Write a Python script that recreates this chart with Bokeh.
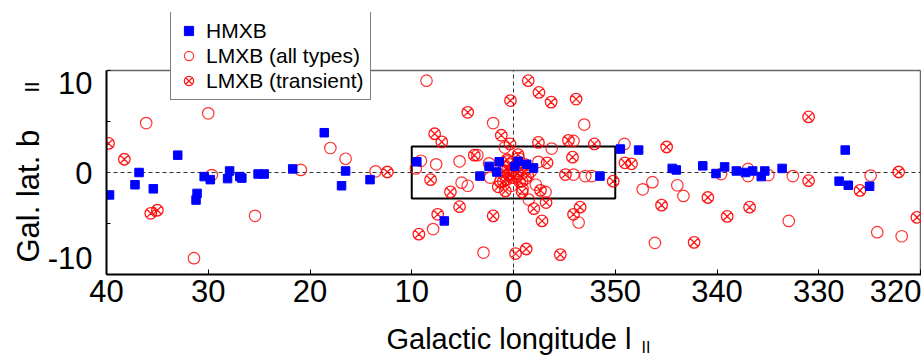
import math
from bokeh.plotting import figure
from bokeh.models import Range1d, FixedTicker, Label, Legend, LegendItem, ColumnDataSource
from bokeh.embed import file_html
from bokeh.resources import INLINE

# ---------------- data (galactic longitude l [deg], latitude b [deg]) ----------------
hmxb_l = [39.7, 37.2, 36.8, 35.4, 33.0, 31.2, 31.1, 30.4, 29.8, 28.1,
          27.9, 26.9, 26.7, 25.1, 24.5, 21.7, 18.6, 16.5, 16.9, 14.1,
          9.5, 6.8, 3.3, 2.4, 1.65, 1.4, 359.55, 359.87, 358.7, 358.03,
          351.5, 349.5, 347.7, 344.4, 344.0, 341.4, 340.1, 339.25, 338.1, 337.2,
          336.5, 335.65, 335.3, 333.6, 328.0, 327.4, 327.1, 325.0]
hmxb_b = [-2.2, -1.2, 0.0, -1.6, 1.7, -2.7, -2.05, -0.4, -0.7, -0.6,
          0.15, -0.4, -0.55, -0.15, -0.15, 0.35, 3.9, 0.15, -1.3, -0.7,
          1.05, -4.75, -0.35, 0.6, 0.05, 1.05, 1.1, 0.6, 0.8, 0.45,
          -0.35, 2.3, 2.2, 0.4, 0.25, 0.65, -0.1, 0.55, 0.15, 0.0,
          0.15, -0.4, 0.15, 0.4, -0.85, 2.2, -1.25, -1.35]

lmxb_l = [36.1, 30.0, 29.65, 31.4, 25.4, 20.9, 18.0, 16.5, 13.55, 8.55,
          9.1, 9.6, 7.6, 5.3, 5.1, 4.5, 7.9, 2.95, 2.0, 3.55,
          0.85, 2.4, 357.55, 356.25, 354.1, 353.05, 356.85, 358.5, 359.15, 354.1,
          352.95, 353.6, 352.3, 349.1, 347.3, 346.35, 343.9, 343.3, 346.1, 339.6,
          336.95, 336.95, 334.95, 332.55, 332.95, 324.9, 324.25, 321.85,
          0.1, 359.7, 0.5, 359.2, 0.9, 358.8, 1.3, 0.2, 359.5, 1.6,
          358.3, 0.6, 359.1, 2.3, 357.8]
lmxb_b = [4.85, 5.8, -0.25, -8.4, -4.25, 0.25, 2.4, 1.35, 0.12, 9.0,
          1.15, 0.4, 0.8, 1.1, -1.0, -1.3, -5.55, -7.85, 4.85, 1.7,
          2.45, 0.9, 1.05, 2.35, 3.1, 4.7, -1.9, -2.65, -0.85, -0.2,
          -0.35, -4.9, -0.35, 2.8, -1.65, -0.95, -1.25, -2.3, -6.9, -0.15,
          0.35, -0.35, -0.25, -0.35, -4.75, -0.3, -5.85, -6.25,
          0.2, -0.4, -0.2, 0.3, 0.5, -0.6, -0.9, -1.3, 1.4, 0.3,
          0.1, 1.1, -1.6, -0.5, -1.2]

trans_l = [39.8, 38.25, 35.65, 35.0, 12.4, 4.5, 7.75, 7.05, 3.85, 8.15,
           6.2, 5.3, 7.45, 9.3, 358.55, 357.5, 356.3, 353.85, 0.3, 1.2,
           357.55, 354.6, 354.2, 0.35, 0.65, 359.55, 356.7, 359.15, 357.35, 356.8,
           358.0, 357.2, 2.0, 353.45, 354.1, 359.8, 358.75, 355.4, 354.9, 1.0,
           352.05, 344.95, 349.05, 348.4, 350.2, 345.45, 342.25, 340.9, 339.0, 336.8,
           331.0, 331.0, 325.95, 322.15, 320.35,
           0.3, 359.8, 0.7, 359.4, 1.0, 358.9, 0.0, 359.6, 0.4, 1.5, 358.6, 0.8]
trans_b = [2.85, 1.3, -4.0, -3.7, 0.05, 5.9, 3.8, 3.0, 1.7, -0.7,
           -1.9, -3.35, -4.1, -6.05, 9.0, 7.85, 6.9, 7.2, 7.05, 3.65,
           2.95, 3.15, 1.5, 2.8, 1.25, 1.75, 0.95, -1.9, -1.75, -2.95,
           -3.55, -4.75, -4.25, -3.4, -4.1, -7.95, -7.5, -8.05, -0.2, -0.85,
           2.8, 2.5, 0.95, 0.85, -0.85, -3.2, -6.85, -2.45, -4.3, -3.4,
           5.45, -0.8, -1.75, 0.05, -4.4,
           -0.1, 0.5, -0.7, -0.9, 0.1, 0.8, -0.5, -0.1, 0.8, -1.4, -0.3, -1.8]

box_l = [10.0, 350.0]
box_b = [-2.55, 2.55]

l_lim = [40.0, 320.0]
b_lim = [-10.0, 10.0]
x_ticks = [40, 30, 20, 10, 0, 350, 340, 330, 320]
y_tick_labels = ["10", "0", "-10"]
y_label_pos = [8.75, 0.0, -8.4]     # edge labels sit inside the box, as in the original
y_minor = [-10, -5, 5, 10]


def wrap(l):
    return l - 360.0 if l > 180 else l


def xs(ls):
    return [wrap(v) for v in ls]


FONT = "Liberation Sans"
FRAME_TOP = 12
x_lo, x_hi = wrap(l_lim[0]), wrap(l_lim[1])
ppx = (920 - 103) / (x_lo - x_hi)           # px per degree horizontally
ppy = (274 - 70) / (b_lim[1] - b_lim[0])     # px per degree vertically
top_b = b_lim[1] + (70 - FRAME_TOP) / ppy    # frame extends above the box for the legend

p = figure(width=921, height=356, output_backend="svg", toolbar_location=None,
           title=None, x_range=Range1d(x_lo, x_hi - 1 / ppx), y_range=Range1d(b_lim[0], top_b),
           min_border_left=103, min_border_right=0, min_border_top=FRAME_TOP, min_border_bottom=82)
p.xgrid.visible = False
p.ygrid.visible = False
p.outline_line_color = None
p.background_fill_color = "white"
p.border_fill_color = "white"

# x axis
p.xaxis.ticker = FixedTicker(ticks=[wrap(t) for t in x_ticks])
p.xaxis.major_label_overrides = {wrap(t): str(t) for t in x_ticks}
p.xaxis.major_label_text_font = FONT
p.xaxis.major_label_text_font_size = "31px"
p.xaxis.major_label_text_color = "black"
p.xaxis.major_label_standoff = 5
p.xaxis.axis_line_width = 2
p.xaxis.axis_line_color = "black"
p.xaxis.major_tick_in = 5
p.xaxis.major_tick_out = 0
p.xaxis.major_tick_line_color = "black"
p.xaxis.minor_tick_line_color = None

# y axis
p.yaxis.bounds = (b_lim[0], b_lim[1])
p.yaxis.ticker = FixedTicker(ticks=y_label_pos, minor_ticks=y_minor)
p.yaxis.major_label_overrides = {pos: txt for pos, txt in zip(y_label_pos, y_tick_labels)}
p.yaxis.major_label_text_font = FONT
p.yaxis.major_label_text_font_size = "31px"
p.yaxis.major_label_text_color = "black"
p.yaxis.major_label_standoff = 8
p.yaxis.axis_line_width = 2
p.yaxis.axis_line_color = "black"
p.yaxis.major_tick_line_color = None
p.yaxis.minor_tick_in = 4
p.yaxis.minor_tick_out = 0
p.yaxis.minor_tick_line_color = "black"


def dx(screen_x):
    return x_lo - (screen_x - 103) / ppx


def dy(screen_y):
    return (172.0 - screen_y) / ppy


# axis titles (labels placed in the side panels so they are not clipped by the frame)
p.add_layout(Label(x=dx(384), y=dy(338.5), text="Galactic longitude  l", text_align="left",
                   text_baseline="middle", text_font=FONT, text_font_size="29px",
                   text_color="black"), "below")
p.add_layout(Label(x=dx(25), y=dy(262), text="Gal. lat.  b", text_align="left", angle=math.pi / 2,
                   text_baseline="middle", text_font=FONT, text_font_size="31px",
                   text_color="black"), "left")
p.add_layout(Label(x=dx(640), y=dy(347), text="II", text_align="left",
                   text_baseline="middle", text_font=FONT, text_font_size="16px",
                   text_color="black"), "left")
p.add_layout(Label(x=dx(28), y=dy(92), text="II", text_align="left", angle=math.pi / 2,
                   text_baseline="middle", text_font=FONT, text_font_size="20px",
                   text_color="black"), "above")

# box edges (top/right), reference lines and the inner box
p.segment(x0=[x_lo, x_hi], y0=[b_lim[1], b_lim[0]], x1=[x_hi, x_hi], y1=[b_lim[1], b_lim[1]],
          line_color="#666666", line_width=1.5)
p.segment(x0=[x_lo, 0], y0=[0, b_lim[0]], x1=[x_hi, 0], y1=[0, b_lim[1]],
          line_color="#333333", line_dash="4 3", line_width=1)
p.quad(left=[wrap(box_l[0])], right=[wrap(box_l[1])], bottom=[box_b[0]], top=[box_b[1]],
       fill_color=None, line_color="black", line_width=2)

# data
src_l = ColumnDataSource(dict(x=xs(lmxb_l), y=lmxb_b))
src_t = ColumnDataSource(dict(x=xs(trans_l), y=trans_b))
src_h = ColumnDataSource(dict(x=xs(hmxb_l), y=hmxb_b))
r_l = p.scatter("x", "y", source=src_l, marker="circle", size=11.5, fill_color=None,
                line_color="#ff0000", line_width=1.2, line_alpha=0.8)
r_t = p.scatter("x", "y", source=src_t, marker="circle_x", size=11.5, fill_color=None,
                line_color="#ff0000", line_width=1.3, line_alpha=0.9)
r_h = p.scatter("x", "y", source=src_h, marker="square", size=8.5, fill_color="#0000ff",
                line_color="#0000ff")

legend = Legend(items=[LegendItem(label="HMXB", renderers=[r_h]),
                       LegendItem(label="LMXB (all types)", renderers=[r_l]),
                       LegendItem(label="LMXB (transient)", renderers=[r_t])],
                location=(64, 174), margin=0, padding=6, spacing=0,
                glyph_width=23, glyph_height=25, label_height=25, label_standoff=6,
                label_text_font=FONT, label_text_font_size="21px", label_text_color="black",
                border_line_color="black", border_line_width=1,
                background_fill_color="white", background_fill_alpha=1)
p.add_layout(legend, "center")

open("out.html", "w").write(file_html(p, INLINE))
